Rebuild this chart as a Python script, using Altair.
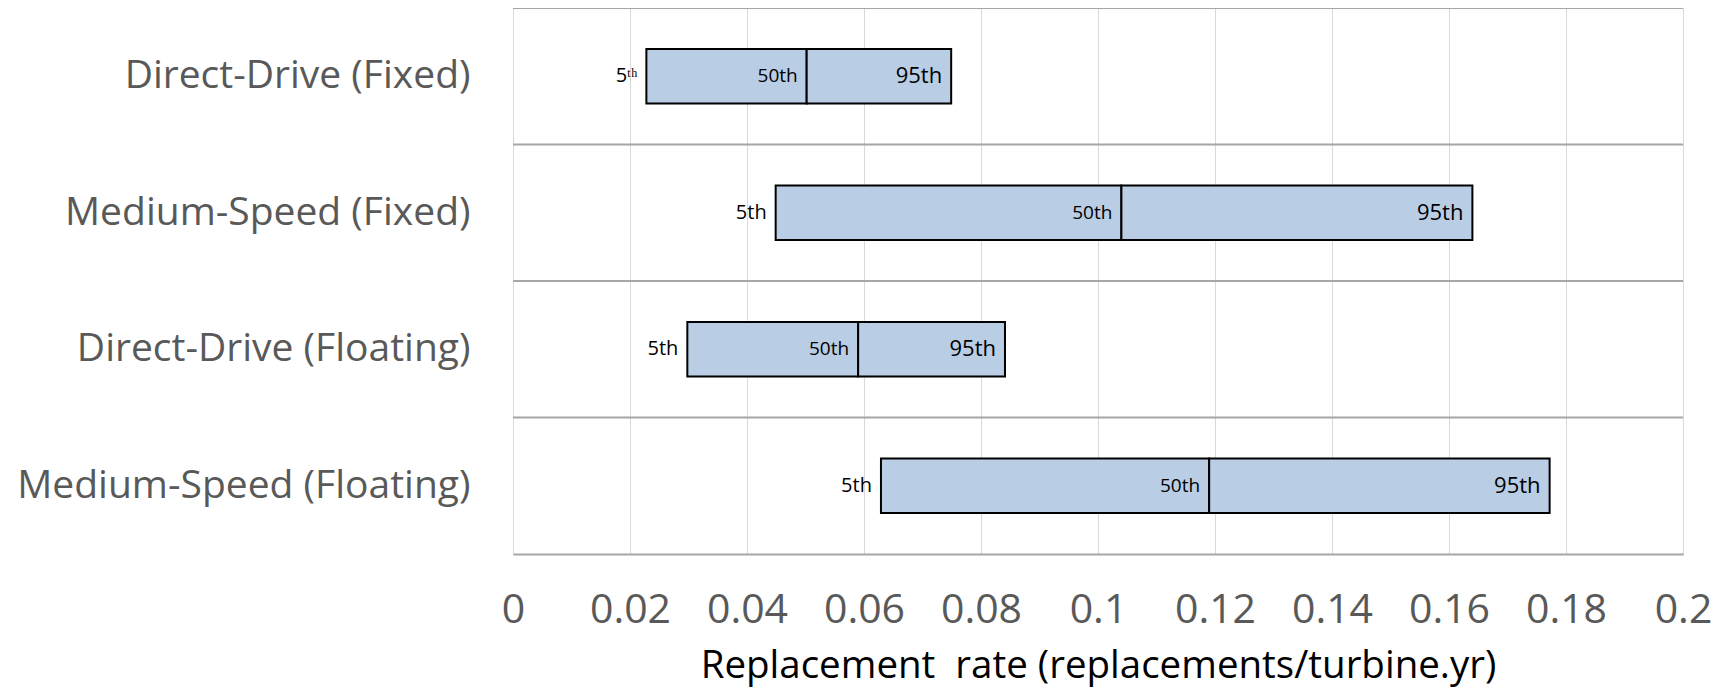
import altair as alt
import pandas as pd

categories = [
    "Direct-Drive (Fixed)",
    "Medium-Speed (Fixed)",
    "Direct-Drive (Floating)",
    "Medium-Speed (Floating)",
]
p5 = [0.0228, 0.0449, 0.0298, 0.0629]
p50 = [0.0502, 0.104, 0.059, 0.119]
p95 = [0.0749, 0.164, 0.0841, 0.1772]
lab5 = ["5\u1d57\u02b0", "5th", "5th", "5th"]
lab50 = ["50th", "50th", "50th", "50th"]
lab95 = ["95th", "95th", "95th", "95th"]
x_ticks = [0, 0.02, 0.04, 0.06, 0.08, 0.1, 0.12, 0.14, 0.16, 0.18, 0.2]

FONT = "Open Sans"

df = pd.DataFrame({"cat": categories, "p5": p5, "p50": p50, "p95": p95,
                   "l5": lab5, "l50": lab50, "l95": lab95})

yscale = alt.Scale(domain=categories, paddingInner=0, paddingOuter=0)
xscale = alt.Scale(domain=[0, 0.2], nice=False, zero=True)

xaxis = alt.Axis(
    values=x_ticks, format="~g", labelFlush=False,
    grid=True, gridColor="#d9d9d9", gridWidth=1,
    domain=True, domainColor="#a6a6a6", domainWidth=2,
    ticks=False, labelPadding=36, labelFont=FONT, labelFontSize=41,
    labelColor="#595959", title="Replacement\u00a0 rate (replacements/turbine.yr)",
    titleFont=FONT, titleFontSize=38.5, titleFontWeight="normal", titleColor="#000000",
    titlePadding=17,
)
yaxis = alt.Axis(
    title=None, grid=False, domain=False, ticks=False,
    labelFont=FONT, labelFontSize=39, labelColor="#595959", labelPadding=43,
    labelLimit=600,
)

base = alt.Chart(df)

seps = base.mark_rule(color="#a6a6a6", strokeWidth=2).encode(
    y=alt.Y("cat:N", scale=yscale, axis=yaxis, bandPosition=0, sort=categories),
)

bar1 = base.mark_bar(height={"band": 0.4}, fill="#b9cde5", stroke="black", strokeWidth=2).encode(
    y=alt.Y("cat:N", scale=yscale, sort=categories),
    x=alt.X("p5:Q", scale=xscale, axis=xaxis),
    x2="p50:Q",
)
bar2 = base.mark_bar(height={"band": 0.4}, fill="#b9cde5", stroke="black", strokeWidth=2).encode(
    y=alt.Y("cat:N", scale=yscale, sort=categories),
    x=alt.X("p50:Q", scale=xscale),
    x2="p95:Q",
)

t5 = base.mark_text(align="right", baseline="middle", dx=-9, font=FONT, fontSize=20, color="#000000").encode(
    y=alt.Y("cat:N", scale=yscale, sort=categories), x=alt.X("p5:Q", scale=xscale), text="l5:N")
t50 = base.mark_text(align="right", baseline="middle", dx=-9, font=FONT, fontSize=19, color="#000000").encode(
    y=alt.Y("cat:N", scale=yscale, sort=categories), x=alt.X("p50:Q", scale=xscale), text="l50:N")
t95 = base.mark_text(align="right", baseline="middle", dx=-9, font=FONT, fontSize=22, color="#000000").encode(
    y=alt.Y("cat:N", scale=yscale, sort=categories), x=alt.X("p95:Q", scale=xscale), text="l95:N")

chart = alt.layer(seps, bar1, bar2, t5, t50, t95).properties(
    width=1170, height=546,
    autosize=alt.AutoSizeParams(type="none"),
    padding={"left": 505, "top": 0, "right": 33, "bottom": 133},
).configure_view(strokeWidth=0).configure(background="white")

chart.save("out.html", embed_options={"renderer": "svg", "actions": False})
